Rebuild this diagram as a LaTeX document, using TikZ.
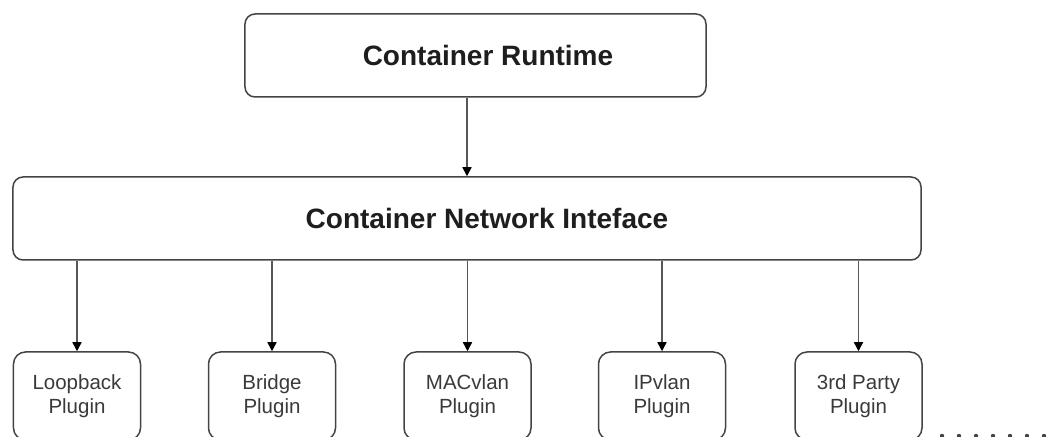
\documentclass[tikz,border=0pt]{standalone}
\usepackage{fontspec}
\setmainfont{Liberation Sans}
\usetikzlibrary{arrows.meta}
\definecolor{edge}{HTML}{444444}
\definecolor{txt}{HTML}{1E1E1E}
\definecolor{ptxt}{HTML}{3A3A3A}
\tikzset{
  bigbox/.style={draw=edge, line width=1.5bp, rounded corners=10bp, fill=white,
    font=\fontsize{28bp}{32bp}\selectfont\bfseries, text=txt, inner sep=0pt},
  plugbox/.style={draw=edge, line width=1.5bp, rounded corners=12bp, fill=white,
    minimum width=127bp, minimum height=88bp, align=center, inner sep=0pt,
    font=\fontsize{20.5bp}{24bp}\selectfont, text=ptxt},
  conn/.style={draw=edge!90, line width=1.4bp, -{Triangle[length=9bp,width=9bp,color=black]}},
}
\begin{document}
\begin{tikzpicture}[x=1bp,y=-1bp]
\useasboundingbox (0,0) rectangle (1057,437);
\clip (0,0) rectangle (1057,437);
\node[bigbox, minimum width=461bp, minimum height=83bp] (cr) at (475.5,55.5) {\hspace*{25bp}Container Runtime};
\node[bigbox, minimum width=908bp, minimum height=83bp] (cni) at (467,218.5) {\hspace*{40bp}Container Network Inteface};
\draw[conn] (cr.south -| 467,0) -- (cni.north -| 467,0);
\node[plugbox] (lo) at (77,396) {Loopback\\Plugin};
\node[plugbox] (br) at (272,396) {Bridge\\Plugin};
\node[plugbox] (mac) at (467.5,396) {MACvlan\\Plugin};
\node[plugbox] (ipv) at (662,396) {IPvlan\\Plugin};
\node[plugbox] (tp) at (858.5,396) {3rd Party\\Plugin};
\foreach \n in {lo,br,mac,ipv,tp}{
  \draw[conn] (cni.south -| \n.north) -- (\n.north);
}
\foreach \i in {0,...,6}{
  \fill[edge] (942+17*\i,436) circle (2.2bp);
}
\end{tikzpicture}
\end{document}
